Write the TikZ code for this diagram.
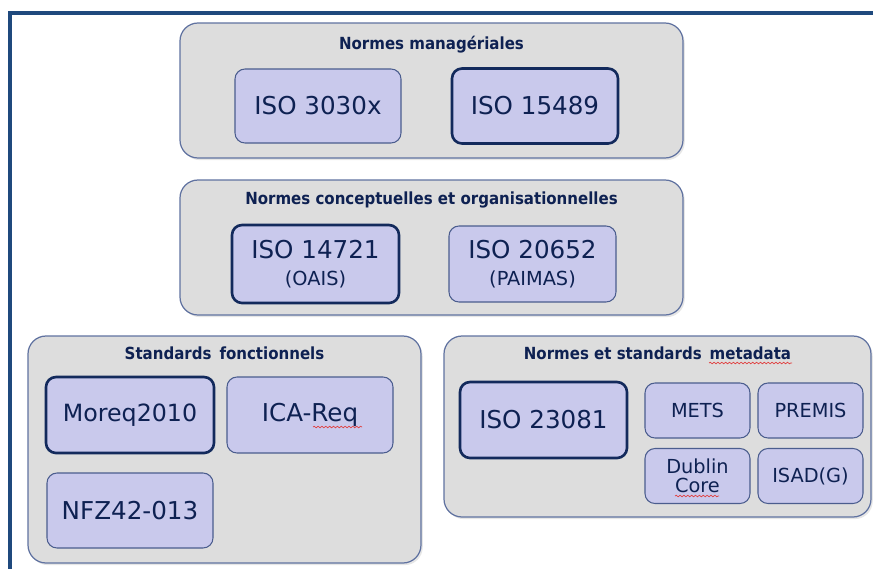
\documentclass[tikz,border=0pt]{standalone}
\usepackage{fontspec}
\setmainfont{DejaVu Sans}
\newfontfamily\titlefont{DejaVu Sans Condensed}
\usetikzlibrary{positioning,shadows,decorations.pathmorphing}

\definecolor{framecol}{HTML}{1F497D}
\definecolor{groupfill}{HTML}{DDDDDD}
\definecolor{groupline}{HTML}{6072A0}
\definecolor{boxfill}{HTML}{C9C9EC}
\definecolor{boxline}{HTML}{4B5D8E}
\definecolor{boxthick}{HTML}{132A5C}
\definecolor{inktext}{HTML}{0E2152}
\definecolor{spellred}{HTML}{E04040}

\def\px{0.02cm}

\begin{document}
\begin{tikzpicture}[x=\px, y=-\px, text=inktext]
        \tikzstyle{group}=[draw=groupline, fill=groupfill, rounded corners=0.36cm, line width=0.7pt, inner sep=0pt,
            drop shadow={opacity=0.2, shadow xshift=1pt, shadow yshift=-1.2pt}]
        \tikzstyle{grouptitle}=[font=\titlefont\bfseries\fontsize{9.5}{11}\selectfont, inner sep=0pt]
        \tikzstyle{std}=[draw=boxline, fill=boxfill, rounded corners=0.2cm, line width=0.6pt, inner sep=0pt,
            align=center, font=\fontsize{14}{16}\selectfont]
        \tikzstyle{keystd}=[std, draw=boxthick, line width=1.5pt]
        \tikzstyle{smallstd}=[std, font=\fontsize{11}{13}\selectfont, minimum width=105*\px, minimum height=55*\px]
        \tikzstyle{spell}=[spellred, line width=0.4pt, decorate, decoration={snake, amplitude=0.45pt, segment length=2.2pt}]

        \useasboundingbox (0,0) rectangle (873,569);

        % slide frame
        \coordinate (frame-corner) at (10,13);
        \draw[framecol, line width=2.1pt] (frame-corner -| 873,0) -- (frame-corner) -- (frame-corner |- 0,569);

        % the four groups
        \node[group, minimum width=503*\px, minimum height=135*\px] (G-mgmt) at (431.5,90.5) {};
        \node[group, minimum width=503*\px, minimum height=135*\px] (G-concept) at (431.5,247.5) {};
        \node[group, minimum width=393*\px, minimum height=227*\px] (G-func) at (224.5,449.5) {};
        \node[group, minimum width=427*\px, minimum height=181*\px] (G-meta) at (657.5,426.5) {};

        \node[grouptitle, below=13*\px of G-mgmt.north] (T-mgmt) {Normes managériales};
        \node[grouptitle, below=12*\px of G-concept.north] (T-concept) {Normes conceptuelles et organisationnelles};
        \node[grouptitle, below=11*\px of G-func.north] (T-func) {Standards\, fonctionnels};
        \node[grouptitle, below=11*\px of G-meta.north] (T-meta) {Normes et standards\, metadata};

        % Normes manageriales
        \node[std, minimum width=166*\px, minimum height=74*\px] (S-30300) at (318,106) {ISO 3030x};
        \node[keystd, minimum width=166*\px, minimum height=75*\px] (S-15489) at (535,106) {ISO 15489};

        % Normes conceptuelles
        \node[keystd, minimum width=167*\px, minimum height=78*\px] (S-14721) at (315.5,264)
            {ISO 14721\\[-0.5pt]{\fontsize{11}{13}\selectfont (OAIS)}};
        \node[std, minimum width=167*\px, minimum height=76*\px] (S-20652) at (532.5,264)
            {ISO 20652\\[-0.5pt]{\fontsize{11}{13}\selectfont (PAIMAS)}};

        % Standards fonctionnels
        \node[keystd, minimum width=168*\px, minimum height=76*\px, font=\fontsize{13.5}{16}\selectfont] (S-moreq) at (130,415) {Moreq2010};
        \node[std, minimum width=166*\px, minimum height=76*\px] (S-icareq) at (310,415) {ICA-Req};
        \node[std, minimum width=166*\px, minimum height=75*\px] (S-nfz) at (130,510.5) {NFZ42-013};

        % Normes metadata
        \node[keystd, minimum width=167*\px, minimum height=76*\px] (S-23081) at (543.5,420) {ISO 23081};
        \foreach \name/\x/\y/\txt in {mets/697.5/410.5/METS, premis/810.5/410.5/PREMIS,
                dc/697.5/476/{Dublin\\[-2pt]Core}, isad/810.5/476/ISAD(G)}
            \node[smallstd] (S-\name) at (\x,\y) {\txt};

        % spell check marks
        \draw[spell] (313,427) -- (362,427);
        \draw[spell] (709,363) -- (792,363);
        \draw[spell] (675,496) -- (719,496);
\end{tikzpicture}
\end{document}
